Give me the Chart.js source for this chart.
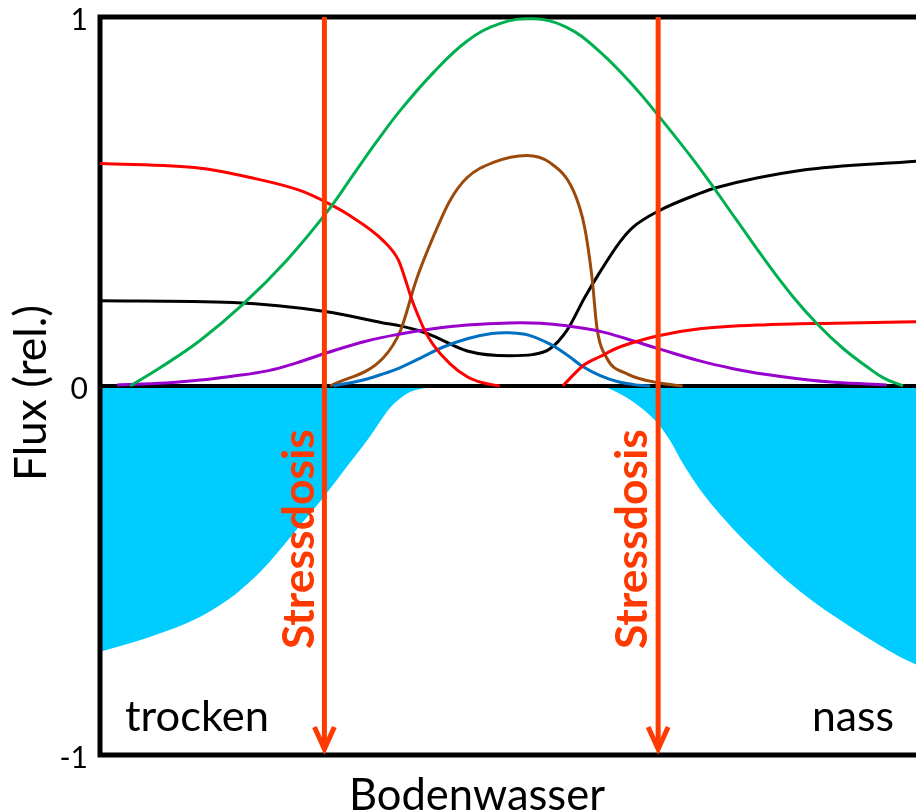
<!DOCTYPE html>
<html>
<head>
<meta charset="utf-8">
<script src="https://cdn.jsdelivr.net/npm/chart.js@4/dist/chart.umd.min.js"></script>
<style>
  html, body { margin: 0; padding: 0; background: #ffffff; }
  #wrap { width: 916px; height: 812px; position: relative; }
</style>
</head>
<body>
<div id="wrap"><canvas id="c" width="916" height="812"></canvas></div>
<script>
// ---------- data (x = Bodenwasser, 0..100 %; y = Flux rel.) ----------
const yTicks = [1, 0, -1];
const yTickLabels = ['1', '0', '-1'];
const xLabel = 'Bodenwasser';
const yLabel = 'Flux (rel.)';
const leftLabel = 'trocken';
const rightLabel = 'nass';
const stressLabel = 'Stressdosis';
const stressX = [27.5, 68.4];

const greenX = [3.7, 7.4, 12.3, 17.5, 22.9, 27.8, 30.9, 33.9, 36.8, 40.8, 45, 49, 53.1, 57.2, 61.3, 65.3, 68.6, 73.5, 78, 81.7, 85, 87.9, 91, 94, 96, 98.4];
const greenY = [0.0, 0.05, 0.124, 0.221, 0.341, 0.471, 0.568, 0.662, 0.747, 0.848, 0.935, 0.982, 0.995, 0.972, 0.905, 0.815, 0.728, 0.59, 0.45, 0.335, 0.24, 0.168, 0.103, 0.052, 0.022, 0.0];

const redDryX = [0, 12.3, 18.4, 24.5, 27.8, 30.6, 34.7, 36.6, 37.4, 38.2, 39.0, 39.8, 40.8, 42.9, 45.0, 47.0, 49.0];
const redDryY = [0.603, 0.59, 0.565, 0.53, 0.497, 0.462, 0.394, 0.34, 0.29, 0.235, 0.19, 0.15, 0.113, 0.06, 0.025, 0.008, 0.0];

const redWetX = [56.7, 59.2, 61.3, 63.4, 66, 68.6, 73.5, 81.7, 90, 100];
const redWetY = [0.0, 0.055, 0.08, 0.103, 0.122, 0.137, 0.155, 0.166, 0.17, 0.174];

const blackX = [0, 16.3, 27.8, 34.7, 36.8, 39.2, 40.8, 45.0, 50.2, 53, 55.1, 57.2, 59.4, 61.3, 63.7, 65.3, 68.6, 73.5, 75.6, 85.8, 100];
const blackY = [0.231, 0.226, 0.201, 0.171, 0.163, 0.149, 0.136, 0.095, 0.082, 0.085, 0.1, 0.15, 0.24, 0.31, 0.39, 0.43, 0.476, 0.522, 0.538, 0.584, 0.609];

const purpleX = [2.1, 8, 12.3, 16, 20.5, 24, 27.8, 32.7, 36.8, 40.8, 45, 50.2, 54, 57.2, 61.3, 64.5, 68.6, 73.5, 77.6, 81.7, 85.8, 90, 96.4];
const purpleY = [0.003, 0.008, 0.016, 0.026, 0.041, 0.062, 0.09, 0.122, 0.141, 0.155, 0.165, 0.171, 0.17, 0.163, 0.148, 0.128, 0.1, 0.068, 0.047, 0.031, 0.019, 0.01, 0.003];

const blueX = [28.6, 32, 34.7, 36.8, 39.2, 42, 45, 48, 50.2, 52.5, 55.1, 57.5, 59.2, 61.3, 63.4, 66, 67.4];
const blueY = [0.0, 0.015, 0.033, 0.05, 0.075, 0.105, 0.128, 0.142, 0.144, 0.138, 0.114, 0.08, 0.052, 0.028, 0.012, 0.002, 0.0];

const brownX = [28.2, 34.7, 36.8, 38.8, 40.8, 42.9, 45.0, 48.2, 52.3, 55.1, 58.0, 59.4, 60.3, 60.9, 62.1, 64.6, 68.6, 71.4];
const brownY = [0.0, 0.076, 0.149, 0.29, 0.402, 0.503, 0.565, 0.606, 0.625, 0.606, 0.53, 0.429, 0.293, 0.158, 0.076, 0.033, 0.008, 0.0];

const waterX = [0, 6.1, 12.3, 15.9, 18.4, 20.8, 24.5, 27.3, 30.6, 33.1, 35.5, 36.8, 38.0, 39.2, 40.4, 42, 50, 61.3, 63.1, 65.0, 66.8, 68.3, 69.9, 71.4, 73.5, 76.0, 79.7, 85.8, 91.9, 98.0, 100];
const waterY = [-0.72, -0.68, -0.625, -0.576, -0.53, -0.476, -0.378, -0.304, -0.209, -0.136, -0.06, -0.033, -0.016, -0.008, -0.003, 0.005, 0.005, 0.0, -0.014, -0.038, -0.068, -0.1, -0.149, -0.209, -0.28, -0.348, -0.435, -0.557, -0.652, -0.734, -0.755];

// ---------- helpers ----------
const pts = (xs, ys) => xs.map((x, i) => ({ x: x, y: ys[i] }));
const FONT = 'Lato, "Open Sans", "DejaVu Sans", sans-serif';
const STRESS_COLOR = '#FF3A00';

function curve(data, color, mode) {
  return {
    data: data, borderColor: color, backgroundColor: color, borderWidth: 3,
    pointRadius: 0, fill: false,
    cubicInterpolationMode: mode === 'smooth' ? 'default' : 'monotone',
    tension: 0.4, order: 1
  };
}

function fitSize(ctx, text, weight, target) {
  ctx.font = weight + ' 100px ' + FONT;
  return 100 * target / ctx.measureText(text).width;
}
function drawText(ctx, text, cx, cy, weight, targetW, color, rot) {
  const size = fitSize(ctx, text, weight, targetW);
  ctx.save();
  ctx.font = weight + ' ' + size.toFixed(2) + 'px ' + FONT;
  ctx.fillStyle = color;
  ctx.textAlign = 'center';
  ctx.textBaseline = 'middle';
  ctx.translate(cx, cy);
  if (rot) ctx.rotate(rot);
  ctx.fillText(text, 0, 0);
  ctx.restore();
}

const framePlugin = {
  id: 'frame',
  afterDatasetDraw(chart, args) {
    if (args.index !== 0) return; // draw right after the water fill
    const { ctx, chartArea: a, scales: { y } } = chart;
    ctx.save();
    ctx.strokeStyle = '#000';
    ctx.lineCap = 'butt';
    ctx.lineWidth = 4;
    ctx.beginPath();
    ctx.moveTo(a.left, y.getPixelForValue(0));
    ctx.lineTo(a.right, y.getPixelForValue(0));
    ctx.stroke();
    ctx.lineWidth = 5;
    ctx.lineJoin = 'miter';
    ctx.beginPath();
    ctx.moveTo(a.right, y.getPixelForValue(1));
    ctx.lineTo(a.left, y.getPixelForValue(1));
    ctx.lineTo(a.left, y.getPixelForValue(-1));
    ctx.lineTo(a.right, y.getPixelForValue(-1));
    ctx.stroke();
    ctx.restore();
  },
  afterDatasetsDraw(chart) {
    const { ctx, chartArea: a, scales: { x, y } } = chart;
    stressX.forEach(v => {
      const px = x.getPixelForValue(v);
      const top = y.getPixelForValue(1);
      const tip = y.getPixelForValue(-1) - 6;
      ctx.save();
      ctx.strokeStyle = STRESS_COLOR;
      ctx.lineWidth = 5;
      ctx.beginPath();
      ctx.moveTo(px, top);
      ctx.lineTo(px, tip);
      ctx.stroke();
      ctx.lineJoin = 'miter';
      ctx.beginPath();
      ctx.moveTo(px - 10, tip - 22);
      ctx.lineTo(px, tip);
      ctx.lineTo(px + 10, tip - 22);
      ctx.stroke();
      ctx.restore();
      drawText(ctx, stressLabel, px - 25, (y.getPixelForValue(-0.12) + y.getPixelForValue(-0.71)) / 2, 'bold', 220, STRESS_COLOR, -Math.PI / 2);
    });
    ctx.save();
    ctx.font = '30px ' + FONT;
    ctx.fillStyle = '#000';
    ctx.textAlign = 'right';
    ctx.textBaseline = 'middle';
    yTicks.forEach((v, i) => {
      ctx.fillText(yTickLabels[i], a.left - 12, y.getPixelForValue(v) + 3);
    });
    ctx.restore();
    drawText(ctx, yLabel, 32, 393, 'normal', 176, '#000', -Math.PI / 2);
    drawText(ctx, xLabel, 477, 796, 'normal', 256, '#000');
    drawText(ctx, leftLabel, 197, 717, 'normal', 144, '#000');
    drawText(ctx, rightLabel, 853, 717, 'normal', 82, '#000');
  }
};

new Chart(document.getElementById('c'), {
  type: 'line',
  data: {
    datasets: [
      { data: pts(waterX, waterY), borderWidth: 0, borderColor: 'rgba(0,0,0,0)', backgroundColor: '#00CCFF',
        pointRadius: 0, fill: 'origin', cubicInterpolationMode: 'monotone', order: 10 },
      curve(pts(greenX, greenY), '#00B050', 'smooth'),
      curve(pts(redDryX, redDryY), '#FF0000'),
      curve(pts(redWetX, redWetY), '#FF0000'),
      curve(pts(purpleX, purpleY), '#9900CC', 'smooth'),
      curve(pts(blueX, blueY), '#0070C0', 'smooth'),
      curve(pts(brownX, brownY), '#9C4A0C'),
      curve(pts(blackX, blackY), '#000000')
    ]
  },
  options: {
    responsive: false,
    animation: false,
    events: [],
    layout: { padding: { left: 100, top: 17, right: 0, bottom: 57 } },
    plugins: { legend: { display: false }, tooltip: { enabled: false } },
    scales: {
      x: { type: 'linear', min: 0, max: 100, display: false },
      y: { type: 'linear', min: -1, max: 1, display: false }
    }
  },
  plugins: [framePlugin]
});
</script>
</body>
</html>
